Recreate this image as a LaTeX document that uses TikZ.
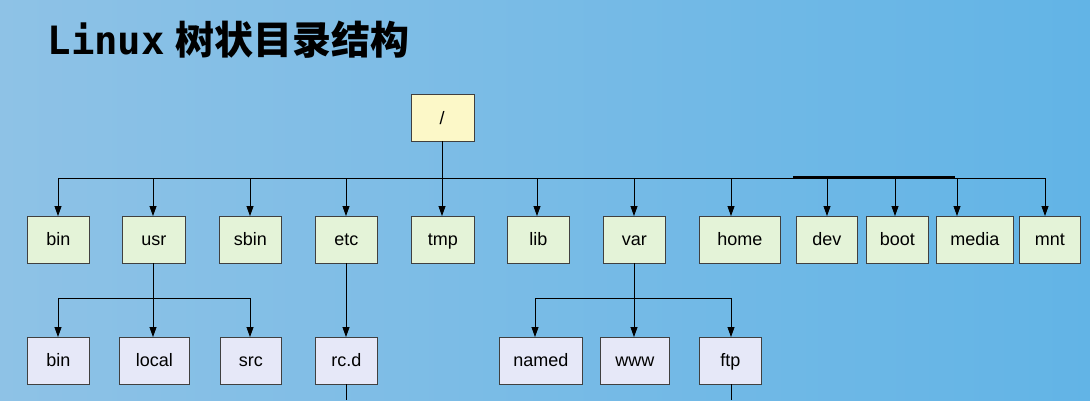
\documentclass[tikz,border=0pt]{standalone}
\usepackage{fontspec}
\setmainfont{Liberation Sans}
\newfontfamily\cjk{Noto Sans CJK SC}
\newfontfamily\monob{DejaVu Sans Mono}
\usetikzlibrary{arrows.meta}
\definecolor{bgl}{HTML}{8EC2E6}
\definecolor{bgr}{HTML}{62B4E6}
\definecolor{gf}{HTML}{E4F3D8}
\definecolor{pf}{HTML}{E6E8F8}
\definecolor{yf}{HTML}{FCF8C8}
\begin{document}
\begin{tikzpicture}[x=1pt,y=-1pt,
  box/.style={draw=black!75,line width=0.8pt,anchor=north west,inner sep=0pt},
  gbox/.style={box,fill=gf},
  pbox/.style={box,fill=pf},
  ybox/.style={box,fill=yf},
  lbl/.style={font=\fontsize{18}{18}\selectfont,anchor=base,inner sep=0pt},
  con/.style={line width=0.8pt,-{Triangle[length=10pt,width=7pt]}},
  ln/.style={line width=0.8pt}]
\shade[left color=bgl, right color=bgr] (0,0) rectangle (1090,400);
\useasboundingbox (0,0) rectangle (1090,400);
\node[anchor=west] (title) at (44,40) {\fontsize{39}{39}\selectfont{\monob\bfseries Linux} \cjk\bfseries 树状目录结构};
\node[ybox,minimum width=63,minimum height=47] (root) at (411,94) {};
\node[lbl] (roott) at (442,124) {/};
\foreach \n/\a/\b/\t in {bin/27/89/bin,usr/122/185/usr,sbin/219/281/sbin,etc/315/377/etc,tmp/411/474/tmp,lib/507/569/lib,var/603/665/var,home/699/780/home,dev/796/857/dev,boot/866/928/boot,media/936/1013/media,mnt/1019/1080/mnt}{
  \node[gbox,minimum width=\b-\a,minimum height=47] (\n) at (\a,216) {};
  \node[lbl] (\n t) at ([yshift=-6]\n.center) {\t};
}
\foreach \n/\a/\b/\t in {bin2/27/89/bin,local/119/189/local,src/220/281/src,rcd/315/377/rc.d,named/499/582/named,www/600/669/www,ftp/699/761/ftp}{
  \node[pbox,minimum width=\b-\a,minimum height=47] (\n) at (\a,337) {};
  \node[lbl] (\n t) at ([yshift=-6]\n.center) {\t};
}
\draw[ln] (442,141) -- (442,178);
\draw[ln] (58,178) -- (1045,178);
\draw[ln,line width=1.6pt] (793,177) -- (955,177);
\foreach \x in {58,153,250,346,442,537,634,731,827,895,957,1045}
  \draw[con] (\x,178) -- (\x,216);
\draw[ln] (153,263) -- (153,298);
\draw[ln] (58,298) -- (250,298);
\foreach \x in {58,153,250} \draw[con] (\x,298) -- (\x,337);
\draw[con] (346,263) -- (346,337);
\draw[ln] (634,263) -- (634,298);
\draw[ln] (535,298) -- (731,298);
\foreach \x in {535,634,731} \draw[con] (\x,298) -- (\x,337);
\draw[ln] (346,384) -- (346,400);
\draw[ln] (731,384) -- (731,400);
\end{tikzpicture}
\end{document}
